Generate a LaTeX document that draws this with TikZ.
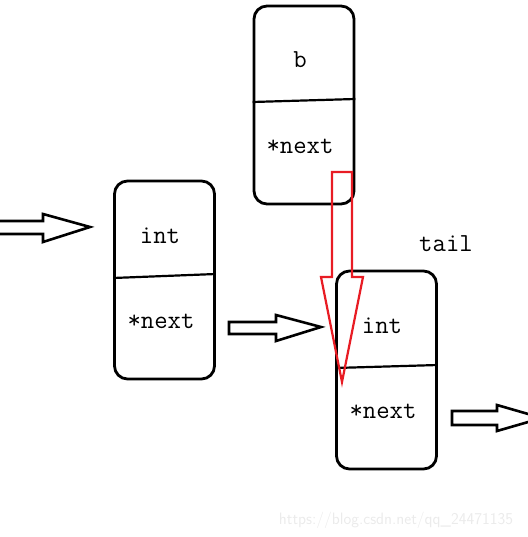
\documentclass[tikz,border=0pt]{standalone}
\usepackage{xcolor}
\usetikzlibrary{positioning}
\definecolor{arrowred}{RGB}{232,28,36}
\begin{document}
\begin{tikzpicture}[x=1pt, y=-1pt,
  cell/.style={draw, line width=2.8pt, rounded corners=13pt,
    minimum width=100pt, minimum height=198pt},
  divider/.style={line width=2.2pt},
  lbl/.style={font=\ttfamily\fontsize{26}{26}\selectfont, inner sep=0pt},
  fat/.style={draw, line width=2.6pt, line join=miter},
  redfat/.style={draw=arrowred, line width=2.2pt, line join=miter}]
  \useasboundingbox (0,0) rectangle (527,537);
  % the three list nodes
  \node[cell] (bbox) at (304,105) {};
  \node[cell] (firstbox) at (164.5,280) {};
  \node[cell] (tailbox) at (386.5,370) {};
  \draw[divider] ([yshift=3pt]bbox.west) -- ([yshift=6pt]bbox.east);
  \draw[divider] ([yshift=2pt]firstbox.west) -- ([yshift=6pt]firstbox.east);
  \draw[divider] ([yshift=2pt]tailbox.west) -- ([yshift=5pt]tailbox.east);
  % field labels
  \node[lbl] (bval) at (300,60) {b};
  \node[lbl] (bnext) at (300,146) {*next};
  \node[lbl] (firstval) at (160,236) {int};
  \node[lbl] (firstnext) at (161,321) {*next};
  \node[lbl] (tailval) at (382,326) {int};
  \node[lbl] (tailnext) at (383,411) {*next};
  \node[lbl] (taillbl) at (446,244) {tail};
  % hollow arrows
  \draw[fat] (0,221) -- (43,221) -- (43,214) -- (90,227)
    -- (43,242) -- (43,234) -- (0,234);
  \draw[fat] (229,322) -- (276,322) -- (276,315) -- (321,327)
    -- (276,341) -- (276,334) -- (229,334) -- cycle;
  \draw[fat] (452,411) -- (497,411) -- (497,405) -- (542,418)
    -- (497,431) -- (497,425) -- (452,425) -- cycle;
  % red arrow onto tail
  \draw[redfat] (332,172) -- (352,172) -- (352,277) -- (363,277)
    -- (342,382) -- (321,277) -- (332,277) -- cycle;
  % watermark
  \node[font=\sffamily\fontsize{16.5}{16.5}\selectfont, text=black!8] (mark)
    at (396,520) {https://blog.csdn.net/qq\_24471135};
\end{tikzpicture}
\end{document}
